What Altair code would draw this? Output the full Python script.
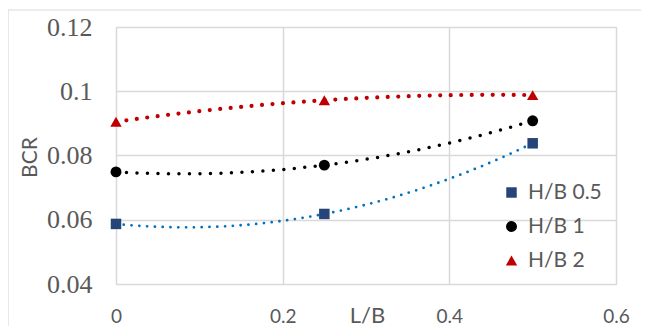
import altair as alt
import pandas as pd

lb = [0, 0.25, 0.5]
series_names = ["H/B 0.5", "H/B 1", "H/B 2"]
hb05 = [0.0587, 0.0618, 0.0838]
hb1 = [0.0749, 0.0770, 0.0908]
hb2 = [0.0905, 0.0972, 0.0988]
x_ticks = [0, 0.2, 0.4, 0.6]
y_ticks = [0.04, 0.06, 0.08, 0.10, 0.12]

rows = []
for name, vals in zip(series_names, [hb05, hb1, hb2]):
    for x, y in zip(lb, vals):
        rows.append({"L/B": x, "BCR": y, "series": name})
df = pd.DataFrame(rows)

GRAY = "#595959"
GRID = "#D9D9D9"

x_enc = alt.X("L/B:Q", scale=alt.Scale(domain=[0, 0.6], nice=False, zero=False),
              axis=alt.Axis(values=x_ticks, format=".1~f", title="L/B", grid=True,
                            gridColor=GRID, gridWidth=1.5, domain=False, ticks=False, tickSize=0,
                            labelFont="Lato", labelFontSize=19, labelColor=GRAY, labelFlush=False,
                            labelBaseline="alphabetic", labelPadding=38,
                            titleFont="Lato", titleFontSize=22, titleFontWeight="normal",
                            titleColor=GRAY, titleBaseline="alphabetic", titleY=38, titleX=251))
y_enc = alt.Y("BCR:Q", scale=alt.Scale(domain=[0.04, 0.12], nice=False, zero=False),
              axis=alt.Axis(values=y_ticks, format=".2~f", title="BCR", grid=True,
                            gridColor=GRID, gridWidth=1.5, domain=False, ticks=False, tickSize=0,
                            labelFont="Liberation Serif", labelFontSize=26, labelColor=GRAY,
                            labelPadding=24,
                            titleFont="Lato", titleFontSize=21, titleFontWeight="normal",
                            titleColor=GRAY, titleAngle=270, titleBaseline="middle",
                            titleAlign="center", titleX=-86, titleY=130))

base = alt.Chart(df)

lines = base.transform_regression(
    "L/B", "BCR", groupby=["series"], method="poly", order=2, extent=[0, 0.5]
).mark_line(strokeCap="round", clip=False).encode(
    x=x_enc, y=y_enc,
    stroke=alt.Stroke("series:N", scale=alt.Scale(domain=series_names,
                                                  range=["#0070C0", "#000000", "#C00000"]), legend=None),
    strokeWidth=alt.StrokeWidth("series:N", scale=alt.Scale(domain=series_names, range=[2.8, 4.2, 4.2]), legend=None),
    strokeDash=alt.StrokeDash("series:N", scale=alt.Scale(domain=series_names,
                                                          range=[[0, 7.8], [0, 10.5], [0, 10.5]]), legend=None),
)

points = base.mark_point(filled=True, opacity=1, clip=False).encode(
    x=x_enc, y=y_enc,
    color=alt.Color("series:N", scale=alt.Scale(domain=series_names,
                                                range=["#264478", "#000000", "#C00000"]),
                    legend=alt.Legend(title=None, orient="none", legendX=385, legendY=155,
                                      labelFont="Lato", labelFontSize=21, labelColor=GRAY,
                                      symbolSize=100, labelOffset=6, rowPadding=12, padding=0,
                                      symbolStrokeWidth=0)),
    shape=alt.Shape("series:N", scale=alt.Scale(domain=series_names,
                                                range=["square", "circle", "triangle-up"])),
    size=alt.Size("series:N", scale=alt.Scale(domain=series_names, range=[110, 130, 80]), legend=None),
)

frame_top = alt.Chart(pd.DataFrame({"a": [0]})).mark_rule(color=GRID, strokeWidth=1.2, clip=False).encode(
    x=alt.value(-108), x2=alt.value(700), y=alt.value(-17))
frame_left = alt.Chart(pd.DataFrame({"a": [0]})).mark_rule(color=GRID, strokeWidth=1.2, clip=False).encode(
    x=alt.value(-108), y=alt.value(-17), y2=alt.value(400))

chart = alt.layer(frame_top, frame_left, lines, points).resolve_scale(
    color="independent", shape="independent", size="independent"
).properties(
    width=500, height=257,
    autosize=alt.AutoSizeParams(type="none"),
    padding={"left": 108, "top": 19, "right": 25, "bottom": 42},
).configure_view(stroke=GRID, strokeWidth=1.5).configure(background="white")

chart.save("out.html", embed_options={"renderer": "svg", "actions": False})
